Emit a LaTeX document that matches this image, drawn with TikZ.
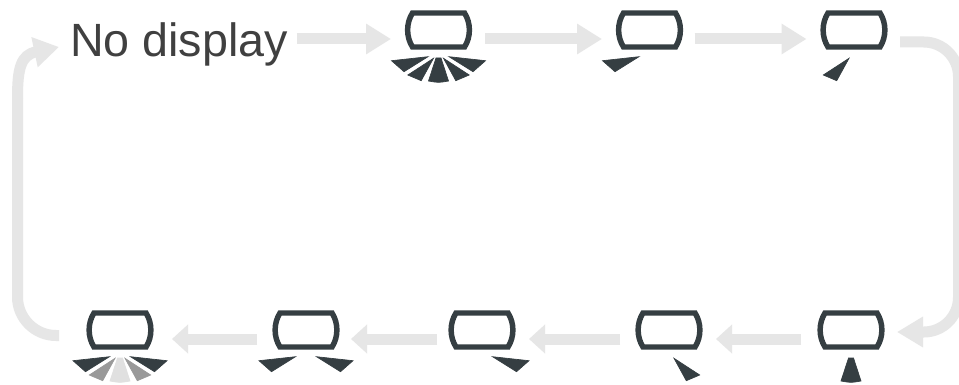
\documentclass[tikz,border=0pt]{standalone}
\usepackage{fontspec}
\setmainfont{Liberation Sans}
\usetikzlibrary{arrows.meta}
\definecolor{ink}{HTML}{353E42}
\definecolor{flow}{HTML}{E6E6E6}
\definecolor{fanmid}{HTML}{999999}
\definecolor{fanlow}{HTML}{E0E0E0}
\tikzset{
  dispbox/.style={minimum width=51pt,minimum height=28.5pt,inner sep=0pt,outer sep=0pt},
  conn/.style={draw=flow,line width=8.25pt},
  toptip/.style={-{Triangle[length=18.75pt,width=21.75pt,fill=flow]}},
  lowtip/.style={-{Triangle[length=12pt,width=21pt,fill=flow]}},
  bendtip/.style={-{Triangle[length=19.5pt,width=21.75pt,fill=flow]}},
  dark/.style={fill=ink,draw=ink,line width=0.5pt},
  midfan/.style={fill=fanmid,draw=fanmid,line width=0.5pt},
  lowfan/.style={fill=fanlow,draw=fanlow,line width=0.5pt},
  screen/.pic={\draw[ink,line width=4.1pt,line join=miter]
     (-26,-17) -- (26,-17) .. controls (32.5,-7) and (32.5,7) .. (26,17)
     -- (-26,17) .. controls (-32.5,7) and (-32.5,-7) .. (-26,-17) -- cycle;},
  wa/.pic={\path[pic actions] (-47,30.7) -- (-10.5,26.7) -- (-34.5,41.7) .. controls (-41,37) .. cycle;},
  wb/.pic={\path[pic actions] (-5,28.3) -- (-30.7,45) .. controls (-24,48.5) .. (-17.3,50.7) -- cycle;},
  wc/.pic={\path[pic actions] (-2.5,28) -- (2.5,28) -- (10,51) .. controls (0,52.8) .. (-10,51) -- cycle;},
  wd/.pic={\path[pic actions] (5,28.3) -- (30.7,45) .. controls (24,48.5) .. (17.3,50.7) -- cycle;},
  we/.pic={\path[pic actions] (47,30.7) -- (10.5,26.7) -- (34.5,41.7) .. controls (41,37) .. cycle;},
}
\begin{document}
\begin{tikzpicture}[x=0.75pt,y=-0.75pt]
\clip (0,0) rectangle (959,385);
\fill[white] (0,0) rectangle (959,385);
\node[inner sep=0pt,outer sep=0pt,anchor=base west,text=black!75,font=\fontsize{35pt}{40pt}\selectfont] (nodisp) at (70,57) {No display};
\node[dispbox] (d1) at (438.5,30) {};
\node[dispbox] (d2) at (649.5,30) {};
\node[dispbox] (d3) at (854,30) {};
\node[dispbox] (d4) at (851,330) {};
\node[dispbox] (d5) at (669,330) {};
\node[dispbox] (d6) at (482,330) {};
\node[dispbox] (d7) at (306,330) {};
\node[dispbox] (d8) at (120,330) {};
\foreach \n in {d1,d2,d3,d4,d5,d6,d7,d8} {\pic at (\n) {screen};}
\pic[dark] at (d1) {wa};\pic[dark] at (d1) {wb};\pic[dark] at (d1) {wc};\pic[dark] at (d1) {wd};\pic[dark] at (d1) {we};
\pic[dark] at (d2) {wa};
\pic[dark] at (d3) {wb};
\pic[dark] at (d4) {wc};
\pic[dark] at (d5) {wd};
\pic[dark] at (d6) {we};
\pic[dark] at (d7) {wa};\pic[dark] at (d7) {we};
\pic[dark] at (d8) {wa};\pic[midfan] at (d8) {wb};\pic[lowfan] at (d8) {wc};\pic[midfan] at (d8) {wd};\pic[dark] at (d8) {we};
\coordinate (rt) at (958.5,42);
\coordinate (rb) at (958.5,332);
\coordinate (lb) at (17.5,335.5);
\coordinate (lv) at (17.5,98);
\draw[conn,toptip] ([shift={(9,-18)}]nodisp.base east) -- ([shift={(-13.5,9)}]d1.west);
\draw[conn,toptip] ([shift={(12.5,9)}]d1.east) -- ([shift={(-13.5,9)}]d2.west);
\draw[conn,toptip] ([shift={(11,9)}]d2.east) -- ([shift={(-13.5,9)}]d3.west);
\draw[conn,bendtip,rounded corners=26pt] ([shift={(12,12)}]d3.east) -- (rt) -- (rb) -- ([shift={(12,2)}]d4.east);
\draw[conn,lowtip] ([shift={(-16,9)}]d4.west) -- ([shift={(13,9)}]d5.east);
\draw[conn,lowtip] ([shift={(-15,9)}]d5.west) -- ([shift={(13,9)}]d6.east);
\draw[conn,lowtip] ([shift={(-11,9)}]d6.west) -- ([shift={(11,9)}]d7.east);
\draw[conn,lowtip] ([shift={(-15,9)}]d7.west) -- ([shift={(18,9)}]d8.east);
\draw[conn,rounded corners=29pt] ([shift={(-27,5.5)}]d8.west) -- (lb) -- (lv);
\draw[conn,toptip] (lv) .. controls (17.5,68) and (21,55) .. ([shift={(-11,-10)}]nodisp.base west);
\end{tikzpicture}
\end{document}
